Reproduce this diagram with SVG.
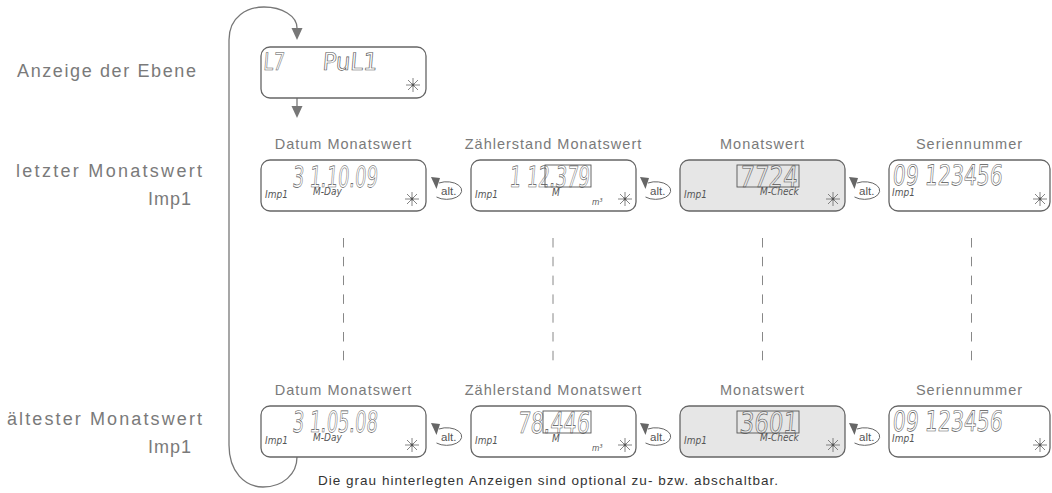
<svg xmlns="http://www.w3.org/2000/svg" xmlns:xlink="http://www.w3.org/1999/xlink" width="1052" height="493" viewBox="0 0 1052 493">
  <style>
    .lbl { font-family: "Liberation Sans", Arial, sans-serif; font-size: 18px; fill: #7a7a7a; letter-spacing: 2px; }
    .hdr { font-family: "Liberation Sans", Arial, sans-serif; font-size: 14.5px; fill: #7a7a7a; letter-spacing: 1px; text-anchor: middle; }
    .note { font-family: "Liberation Sans", Arial, sans-serif; font-size: 13.5px; fill: #333; }
    .box { fill: #fff; stroke: #666; stroke-width: 1.3; }
    .opt { fill: #e6e6e6; }
    .lcd { font-family: "Liberation Sans Narrow", "DejaVu Sans Condensed", sans-serif; font-size: 29px; fill: none; stroke: #555; stroke-width: 0.6; }
    .frame { fill: none; stroke: #555; stroke-width: 0.9; }
    .sm { font-family: "Liberation Sans Narrow", "DejaVu Sans Condensed", sans-serif; font-style: italic; font-size: 10px; fill: #555; }
    .line { fill: none; stroke: #777; stroke-width: 1.3; }
    .dash { fill: none; stroke: #888; stroke-width: 1; stroke-dasharray: 9.5 9.3; }
    .head { fill: #777; }
    .altt { font-family: "Liberation Sans", Arial, sans-serif; font-size: 11.5px; fill: #555; }
  </style>
  <defs>
    <!-- blinking indicator star -->
    <g id="star" stroke="#666" stroke-width="0.8">
      <line x1="-7" y1="0" x2="7" y2="0"/>
      <line x1="0" y1="-7" x2="0" y2="7"/>
      <line x1="-5" y1="-5" x2="5" y2="5"/>
      <line x1="-5" y1="5" x2="5" y2="-5"/>
      <circle r="1.4" fill="#555" stroke="none"/>
    </g>
    <!-- "alt." toggle loop with arrowhead -->
    <g id="alt">
      <path d="M439,183 A15,8.8 0 1 1 436.5,197" fill="none" stroke="#666" stroke-width="1"/>
      <polygon points="431,177 440,178 436.5,189" fill="#666"/>
      <text class="altt" x="441" y="194.5">alt.</text>
    </g>
  </defs>

  <!-- side labels -->
  <g id="labels">
    <text class="lbl" x="17" y="77" textLength="181">Anzeige der Ebene</text>
    <text class="lbl" x="16" y="177" textLength="188">letzter Monatswert</text>
    <text class="lbl" x="148" y="205" textLength="45">Imp1</text>
    <text class="lbl" x="7" y="425" textLength="197">ältester Monatswert</text>
    <text class="lbl" x="148" y="453" textLength="45">Imp1</text>
  </g>

  <!-- column headers -->
  <g id="headers">
    <text class="hdr" x="343.5" y="149">Datum Monatswert</text>
    <text class="hdr" x="553.5" y="149">Zählerstand Monatswert</text>
    <text class="hdr" x="762.5" y="149">Monatswert</text>
    <text class="hdr" x="969.5" y="149">Seriennummer</text>
    <text class="hdr" x="343.5" y="395">Datum Monatswert</text>
    <text class="hdr" x="553.5" y="395">Zählerstand Monatswert</text>
    <text class="hdr" x="762.5" y="395">Monatswert</text>
    <text class="hdr" x="969.5" y="395">Seriennummer</text>
  </g>

  <!-- connectors -->
  <g id="connectors">
    <path class="line" d="M229,40 C229,16 248,7 264,7 C282,7 297,16 297,28"/>
    <polygon class="head" points="291.5,28 302.5,28 297,40"/>
    <line class="line" x1="229" y1="40" x2="229" y2="445"/>
    <path class="line" d="M229,445 C229,472 245,487 263,487 C283,487 297,474 297,457"/>
    <line class="line" x1="297" y1="98" x2="297" y2="107"/>
    <polygon class="head" points="291.5,106 302.5,106 297,118"/>
    <line class="dash" x1="343.5" y1="238" x2="343.5" y2="361"/>
    <line class="dash" x1="553" y1="238" x2="553" y2="361"/>
    <line class="dash" x1="762.5" y1="238" x2="762.5" y2="361"/>
    <line class="dash" x1="971.5" y1="238" x2="971.5" y2="361"/>
    <use href="#alt"/>
    <use href="#alt" x="209"/>
    <use href="#alt" x="418"/>
    <use href="#alt" y="246"/>
    <use href="#alt" x="209" y="246"/>
    <use href="#alt" x="418" y="246"/>
  </g>

  <!-- level display -->
  <g id="level">
    <rect class="box" x="261" y="47" width="165" height="51" rx="9"/>
    <text class="lcd" style="font-size:24px" transform="translate(263,70) skewX(-5)" textLength="21" lengthAdjust="spacingAndGlyphs">L7</text>
    <text class="lcd" style="font-size:24px" transform="translate(322,70) skewX(-5)" textLength="55" lengthAdjust="spacingAndGlyphs">PuL1</text>
    <use href="#star" x="413" y="85"/>
  </g>

  <!-- last monthly value, Imp1 -->
  <g id="last-date">
    <rect class="box" x="261" y="160" width="165" height="51" rx="9"/>
    <text class="lcd" transform="translate(292,187) skewX(-5)" textLength="85" lengthAdjust="spacingAndGlyphs">3 1.10.09</text>
    <text class="sm" x="265" y="198">Imp1</text>
    <text class="sm" x="313" y="195">M-Day</text>
    <use href="#star" x="412" y="199"/>
  </g>
  <g id="last-meter">
    <rect class="box" x="471" y="160" width="165" height="51" rx="9"/>
    <text class="lcd" transform="translate(509,187) skewX(-5)" textLength="80" lengthAdjust="spacingAndGlyphs">1 12.379</text>
    <rect class="frame" x="545" y="165" width="46" height="22"/>
    <text class="sm" x="475" y="198">Imp1</text>
    <text class="sm" x="552" y="196">M</text>
    <text class="sm" style="font-size:8.5px" x="592" y="205">m³</text>
    <use href="#star" x="625" y="199"/>
  </g>
  <g id="last-value">
    <rect class="box opt" x="680" y="160" width="165" height="51" rx="9"/>
    <text class="lcd" transform="translate(739,187) skewX(-5)" textLength="58" lengthAdjust="spacingAndGlyphs">7724</text>
    <rect class="frame" x="737" y="165" width="62" height="22"/>
    <text class="sm" x="684" y="198">Imp1</text>
    <text class="sm" x="760" y="195">M-Check</text>
    <use href="#star" x="833" y="199"/>
  </g>
  <g id="last-serial">
    <rect class="box" x="889" y="160" width="161" height="51" rx="9"/>
    <text class="lcd" style="font-size:28px" transform="translate(892,185) skewX(-5)" textLength="110" lengthAdjust="spacingAndGlyphs">09 123456</text>
    <text class="sm" x="892" y="196">Imp1</text>
    <use href="#star" x="1040" y="199"/>
  </g>

  <!-- oldest monthly value, Imp1 -->
  <g id="oldest-date">
    <rect class="box" x="261" y="406" width="165" height="51" rx="9"/>
    <text class="lcd" transform="translate(292,432) skewX(-5)" textLength="85" lengthAdjust="spacingAndGlyphs">3 1.05.08</text>
    <text class="sm" x="265" y="444">Imp1</text>
    <text class="sm" x="313" y="441">M-Day</text>
    <use href="#star" x="412" y="445"/>
  </g>
  <g id="oldest-meter">
    <rect class="box" x="471" y="406" width="165" height="51" rx="9"/>
    <text class="lcd" transform="translate(517,433) skewX(-5)" textLength="72" lengthAdjust="spacingAndGlyphs">78.446</text>
    <rect class="frame" x="543" y="411" width="48" height="22"/>
    <text class="sm" x="475" y="444">Imp1</text>
    <text class="sm" x="552" y="442">M</text>
    <text class="sm" style="font-size:8.5px" x="592" y="451">m³</text>
    <use href="#star" x="625" y="445"/>
  </g>
  <g id="oldest-value">
    <rect class="box opt" x="680" y="406" width="165" height="51" rx="9"/>
    <text class="lcd" transform="translate(739,433) skewX(-5)" textLength="58" lengthAdjust="spacingAndGlyphs">3601</text>
    <rect class="frame" x="737" y="411" width="62" height="22"/>
    <text class="sm" x="684" y="444">Imp1</text>
    <text class="sm" x="760" y="441">M-Check</text>
    <use href="#star" x="833" y="445"/>
  </g>
  <g id="oldest-serial">
    <rect class="box" x="889" y="406" width="161" height="51" rx="9"/>
    <text class="lcd" style="font-size:28px" transform="translate(892,431) skewX(-5)" textLength="110" lengthAdjust="spacingAndGlyphs">09 123456</text>
    <text class="sm" x="892" y="442">Imp1</text>
    <use href="#star" x="1040" y="445"/>
  </g>

  <!-- footnote -->
  <text class="note" x="318" y="485" textLength="460">Die grau hinterlegten Anzeigen sind optional zu- bzw. abschaltbar.</text>
</svg>
